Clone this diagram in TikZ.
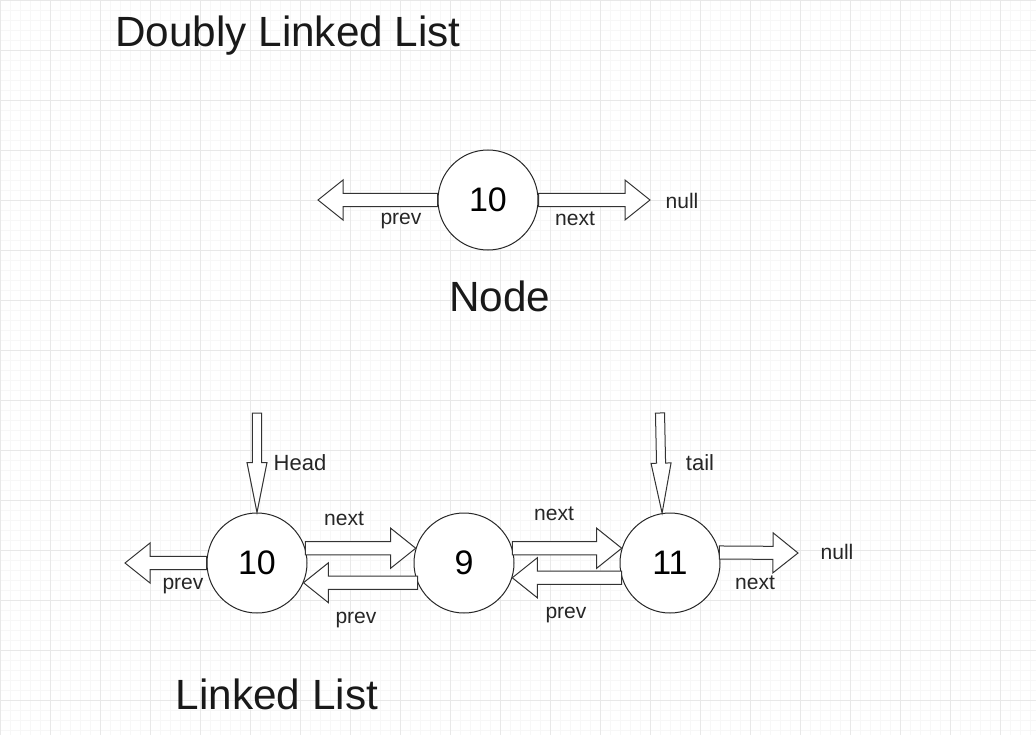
\documentclass[tikz,border=0pt]{standalone}
\usepackage{fontspec}
\setmainfont{Liberation Sans}
\usetikzlibrary{calc,positioning}
\tikzset{
  cell/.style={circle, draw=black!85, line width=0.75pt, fill=white,
    minimum size=75pt, inner sep=0pt, font=\fontsize{25.5}{30}\selectfont},
  big/.style={font=\fontsize{31.7}{38}\selectfont, text=black!90},
  lbl/.style={font=\fontsize{15.8}{19}\selectfont, text=black!85},
  ptr/.style={font=\fontsize{16.5}{20}\selectfont, text=black!85},
  flex/.style={draw=black!80, line width=0.75pt, fill=white, line join=miter},
  minor/.style={draw=black!3, line width=0.4pt},
  major/.style={draw=black!9, line width=0.6pt},
}
% block arrow: from, to, half shaft, half head, head length
\newcommand{\flexarrow}[5]{%
  \coordinate (hb) at ($(#2)!#5!(#1)$);
  \draw[flex] ($(#1)!#3!90:(#2)$) -- ($(hb)!#3!90:(#2)$) -- ($(hb)!#4!90:(#2)$)
    -- (#2) -- ($(hb)!#4!-90:(#2)$) -- ($(hb)!#3!-90:(#2)$) -- ($(#1)!#3!-90:(#2)$) -- cycle;
}

\begin{document}
\begin{tikzpicture}[x=0.75pt, y=-0.75pt]
  \useasboundingbox (0,0) rectangle (1036,735);
  % grid paper
  \foreach \x in {0,10,...,1030} \draw[minor] (\x,0) -- (\x,735);
  \foreach \y in {0,10,...,730} \draw[minor] (0,\y) -- (1036,\y);
  \foreach \x in {0,50,...,1000} \draw[major] (\x,0) -- (\x,735);
  \foreach \y in {0,50,...,700} \draw[major] (0,\y) -- (1036,\y);

  \node[big] (title) at (288,36) {Doubly Linked List};

  % single node
  \node[cell] (single) at (488,200) {10};
  \node[big] (nodecap) at (500,296) {Node};
  \coordinate (sprev) at (318,200);
  \coordinate (snext) at (650,200);
  \flexarrow{single.west}{sprev}{4.9pt}{15pt}{18.75pt}
  \flexarrow{single.east}{snext}{4.9pt}{15pt}{18.75pt}
  \node[lbl] (sprevlbl) at (401,221) {prev};
  \node[lbl] (snextlbl) at (575,219) {next};
  \node[lbl] (snull) at (682,201) {null};

  % the list
  \node[cell] (n10) at (257,563) {10};
  \node[cell, right=79.5pt of n10] (n9) {9};
  \node[cell, right=78.75pt of n9] (n11) {11};
  \coordinate (lend) at (125,563);
  \coordinate (rend) at (798,553);
  \coordinate (headtop) at (257,413);
  \coordinate (tailtop) at (660,413);

  \flexarrow{n10.west}{lend}{4.9pt}{15pt}{18.75pt}
  \flexarrow{n10.17}{n9.163}{4.9pt}{15pt}{18.75pt}
  \flexarrow{n9.203}{n10.-23}{4.9pt}{15pt}{18.75pt}
  \flexarrow{n9.17}{n11.163}{4.9pt}{15pt}{18.75pt}
  \flexarrow{n11.197}{n9.-17}{4.9pt}{15pt}{18.75pt}
  \flexarrow{n11.12}{rend}{4.9pt}{15pt}{18.75pt}
  \flexarrow{headtop}{n10.north}{3.4pt}{7.5pt}{37.5pt}
  \flexarrow{tailtop}{n11.99}{3.4pt}{7.5pt}{37.5pt}

  \node[ptr] (headlbl) at (300,463) {Head};
  \node[ptr] (taillbl) at (700,463) {tail};
  \node[lbl] (l1) at (183,586) {prev};
  \node[lbl] (l2) at (344,519) {next};
  \node[lbl] (l3) at (356,620) {prev};
  \node[lbl] (l4) at (554,514) {next};
  \node[lbl] (l5) at (566,615) {prev};
  \node[lbl] (l6) at (755,583) {next};
  \node[lbl] (l7) at (837,552) {null};

  \node[big] (listcap) at (277,694) {Linked List};
\end{tikzpicture}
\end{document}
